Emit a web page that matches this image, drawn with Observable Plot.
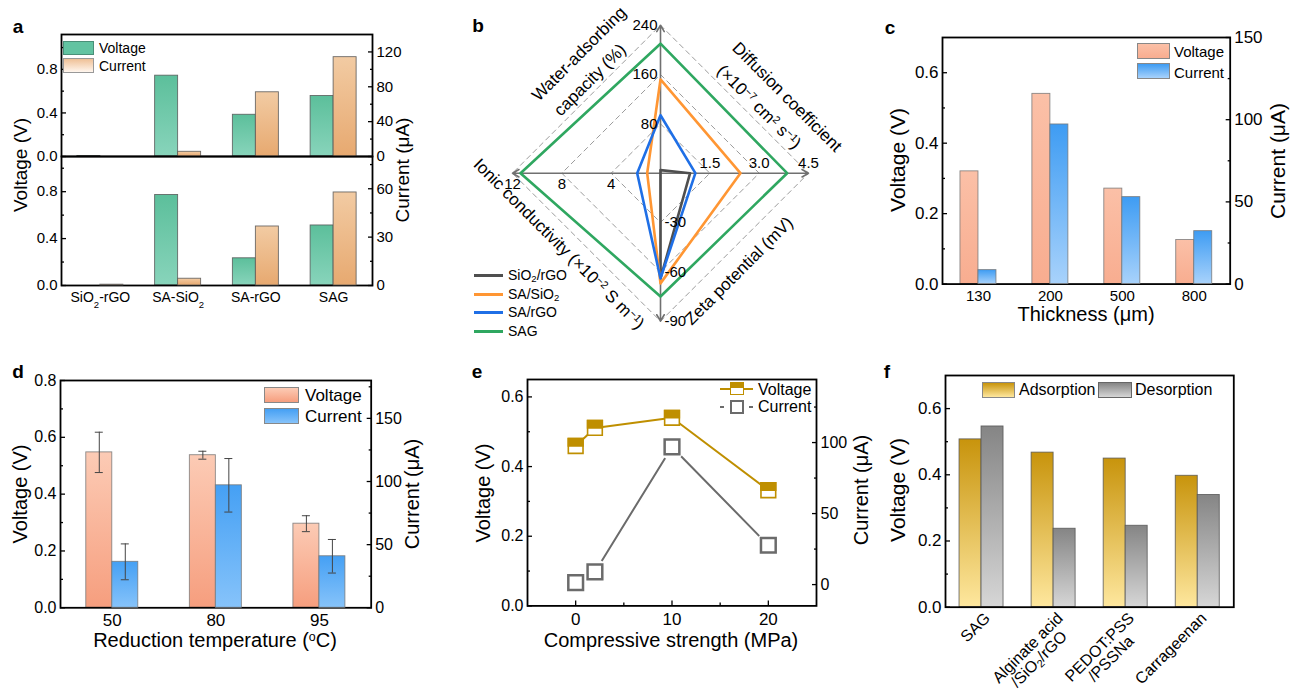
<!DOCTYPE html>
<html><head><meta charset="utf-8">
<script src="https://cdn.jsdelivr.net/npm/d3@7"></script>
<script src="https://cdn.jsdelivr.net/npm/@observablehq/plot@0.6"></script>
<style>
body{margin:0;background:#fff;font-family:"Liberation Sans",Arial,Helvetica,sans-serif;}
#fig{position:relative;width:1290px;height:693px;overflow:hidden;background:#fff;}
.t{position:absolute;white-space:nowrap;color:#000;line-height:1;}
.t sup{font-size:0.62em;vertical-align:0.5em;line-height:0;}
.t sub,.rl sub{font-size:0.68em;vertical-align:-0.25em;line-height:0;}
.sw{position:absolute;box-sizing:border-box;}
</style></head><body>
<svg width="0" height="0" style="position:absolute"><defs id="grads"></defs></svg>
<div id="fig"></div>
<script>
// ================= DATA =================
// Panel a
const aCategories = ["SiO₂-rGO", "SA-SiO₂", "SA-rGO", "SAG"];
const aTopVoltage = [0.005, 0.742, 0.383, 0.555];
const aTopCurrent = [0, 5.4, 73.7, 114];
const aBottomVoltage = [0, 0.772, 0.232, 0.512];
const aBottomCurrent = [0.5, 4.2, 36.6, 57.7];
const aTopVoltageTicks = [0, 0.4, 0.8], aTopVoltageMinor = [0.2, 0.6, 1.0];
const aTopCurrentTicks = [0, 40, 80, 120], aTopCurrentMinor = [20, 60, 100];
const aBottomVoltageTicks = [0, 0.4, 0.8], aBottomVoltageMinor = [0.2, 0.6, 1.0];
const aBottomCurrentTicks = [0, 30, 60], aBottomCurrentMinor = [15, 45, 75];

// Panel b (radar): axes up, right, down, left
const radarAxisNames = ["Water-adsorbing capacity (%)", "Diffusion coefficient (×10⁻⁷ cm² s⁻¹)", "Zeta potential (mV)", "Ionic conductivity (×10⁻² S m⁻¹)"];
const radarMax = [240, 4.5, -90, 12];
const radarTicks = [[80, 160, 240], [1.5, 3.0, 4.5], [-30, -60, -90], [4, 8, 12]];
const radarSeries = ["SiO₂/rGO", "SA/SiO₂", "SA/rGO", "SAG"];
const waterAdsorbing = [5, 152, 94, 210];
const diffusionCoef = [0.9, 2.43, 1.06, 3.85];
const zetaPotential = [-64, -67, -64, -75];
const ionicConductivity = [0, 1.08, 1.89, 11.35];

// Panel c
const cThickness = ["130", "200", "500", "800"];
const cVoltage = [0.32, 0.54, 0.271, 0.125];
const cCurrent = [8.5, 97.1, 52.9, 32.2];

// Panel d
const dTemperature = ["50", "80", "95"];
const dVoltage = [0.547, 0.537, 0.296];
const dVoltageErr = [0.071, 0.014, 0.028];
const dCurrent = [36.4, 97, 40.8];
const dCurrentErr = [14.2, 21.2, 13.3];

// Panel e
const eStrength = [0, 2, 10, 20];
const eVoltage = [0.459, 0.511, 0.54, 0.332];
const eCurrent = [1.4, 8.9, 96.9, 27.7];

// Panel f
const fMaterials = ["SAG", "Alginate acid\n/SiO₂/rGO", "PEDOT:PSS\n/PSSNa", "Carrageenan"];
const fAdsorption = [0.507, 0.467, 0.449, 0.397];
const fDesorption = [0.546, 0.237, 0.246, 0.339];

// ================= STYLE =================
const FONT = "'Liberation Sans', Arial, Helvetica, sans-serif";
const gradients = {
  gAv: ["#5cbf9b", "#88d4bb"], gAi: ["#f2cba3", "#e7a970"], gAiL: ["#efc096", "#fff6ee"],
  gCv: ["#fbc0a7", "#f8ad90"], gCi: ["#3e9cf3", "#a8d2fb"],
  gDv: ["#fccbb5", "#f69e7e"], gDi: ["#45a0f4", "#86c3fa"],
  gFa: ["#c8940c", "#fee79e"], gFd: ["#858585", "#d6d6d6"]
};
const defs = document.getElementById("grads");
for (const [id, [c0, c1]] of Object.entries(gradients)) {
  defs.insertAdjacentHTML("beforeend",
    `<linearGradient id="${id}" x1="0" y1="0" x2="0" y2="1"><stop offset="0" stop-color="${c0}"/><stop offset="1" stop-color="${c1}"/></linearGradient>`);
}
const fig = document.getElementById("fig");
const f1 = d3.format(".1f"), fd = d3.format("d");

function subify(svg) {
  svg.querySelectorAll("text").forEach(t => {
    if (t.children.length) return;
    const s = t.textContent;
    if (!s.includes("₂")) return;
    t.textContent = "";
    s.split(/(₂)/).forEach(part => {
      if (!part) return;
      const ts = document.createElementNS("http://www.w3.org/2000/svg", "tspan");
      if (part === "₂") { ts.textContent = "2"; ts.setAttribute("font-size", "0.68em"); ts.setAttribute("baseline-shift", "sub"); }
      else ts.textContent = part;
      t.appendChild(ts);
    });
  });
}
function toHtml(s) { return s.replace(/₂/g, "<sub>2</sub>").replace(/\n/g, "<br>"); }

function mkPlot({frame, m, x, y, color, marks}) {
  const [x0, y0, x1, y1] = frame, [mt, mr, mb, ml] = m;
  const svg = Plot.plot({
    width: x1 - x0 + ml + mr, height: y1 - y0 + mt + mb,
    marginTop: mt, marginRight: mr, marginBottom: mb, marginLeft: ml,
    x: {...x, label: null}, y: {...y, label: null},
    ...(color ? {color} : {}),
    marks,
    style: `background:transparent;font-family:${FONT};color:#000;overflow:visible;`
  });
  Object.assign(svg.style, {position: "absolute", left: (x0 - ml) + "px", top: (y0 - mt) + "px", maxWidth: "none"});
  fig.appendChild(svg);
  subify(svg);
  return svg;
}
function txt(html, x, y, {size = 20, rot = 0, anchor = "middle", weight = "normal"} = {}) {
  const d = document.createElement("div");
  d.className = "t";
  d.innerHTML = html;
  const tx = anchor === "start" ? "0" : anchor === "end" ? "-100%" : "-50%";
  d.style.cssText = `left:${x}px;top:${y}px;font-size:${size}px;font-weight:${weight};transform:translate(${tx},-50%) rotate(${rot}deg);`;
  fig.appendChild(d);
  return d;
}
function box(x, y, w, h, css) {
  const d = document.createElement("div");
  d.className = "sw";
  d.style.cssText = `left:${x}px;top:${y}px;width:${w}px;height:${h}px;${css}`;
  fig.appendChild(d);
  return d;
}
const grad = id => `linear-gradient(${gradients[id][0]},${gradients[id][1]})`;

function leftAxis(major, minor, fs, fmt = f1) {
  return [
    Plot.axisY(major, {anchor: "left", tickSize: -5, tickPadding: 9, fontSize: fs, tickFormat: fmt, strokeWidth: 1.3}),
    Plot.axisY(minor, {anchor: "left", tickSize: -3, tickFormat: () => "", strokeWidth: 1.3})
  ];
}
function rightAxis(major, minor, fs, fmt = fd) {
  return [
    Plot.axisY(major, {anchor: "right", tickSize: -5, tickPadding: 9, fontSize: fs, tickFormat: fmt, strokeWidth: 1.3}),
    Plot.axisY(minor, {anchor: "right", tickSize: -3, tickFormat: () => "", strokeWidth: 1.3})
  ];
}
const frameMark = () => Plot.frame({stroke: "#000", strokeWidth: 1.8});
const barStroke = {stroke: "#555", strokeWidth: 0.9, strokeOpacity: 0.85};

// ================= PANEL A =================
{
  const fr1 = [61, 34, 372, 156], fr2 = [61, 156, 372, 285];
  const band = (fr1[2] - fr1[0]) / aCategories.length, bw = 23;
  const xs = {domain: aCategories, padding: 0, round: false, axis: null};
  const top = aCategories.map((cat, i) => ({cat, voltage: aTopVoltage[i], current: aTopCurrent[i]}));
  const bot = aCategories.map((cat, i) => ({cat, voltage: aBottomVoltage[i], current: aBottomCurrent[i]}));
  mkPlot({frame: fr1, m: [4, 40, 2, 48], x: xs, y: {domain: [0, 1.12], axis: null}, marks: [
    Plot.barY(top, {x: "cat", y: "voltage", fill: "url(#gAv)", ...barStroke, insetLeft: band / 2 - bw, insetRight: band / 2}),
    ...leftAxis(aTopVoltageTicks, aTopVoltageMinor, 15),
    frameMark()
  ]});
  mkPlot({frame: fr1, m: [4, 40, 2, 48], x: xs, y: {domain: [0, 140], axis: null}, marks: [
    Plot.barY(top, {x: "cat", y: "current", fill: "url(#gAi)", ...barStroke, insetLeft: band / 2, insetRight: band / 2 - bw}),
    ...rightAxis(aTopCurrentTicks, aTopCurrentMinor, 15)
  ]});
  mkPlot({frame: fr2, m: [2, 40, 30, 48], x: xs, y: {domain: [0, 1.1], axis: null}, marks: [
    Plot.barY(bot, {x: "cat", y: "voltage", fill: "url(#gAv)", ...barStroke, insetLeft: band / 2 - bw, insetRight: band / 2}),
    ...leftAxis(aBottomVoltageTicks, aBottomVoltageMinor, 15),
    Plot.axisX({tickSize: 0, tickPadding: 7, fontSize: 14}),
    frameMark()
  ]});
  mkPlot({frame: fr2, m: [2, 40, 30, 48], x: xs, y: {domain: [0, 80], axis: null}, marks: [
    Plot.barY(bot, {x: "cat", y: "current", fill: "url(#gAi)", ...barStroke, insetLeft: band / 2, insetRight: band / 2 - bw}),
    ...rightAxis(aBottomCurrentTicks, aBottomCurrentMinor, 15)
  ]});
  box(63, 41, 31, 14, "background:#62c3a1;border:1px solid #4a8f78;");
  box(63, 58, 31, 15, `background:${grad("gAiL")};border:1px solid #999;`);
  txt("Voltage", 99, 48, {size: 14, anchor: "start"});
  txt("Current", 99, 66, {size: 14, anchor: "start"});
  txt("Voltage (V)", 20, 165, {size: 19, rot: -90});
  txt("Current (μA)", 402, 170, {size: 19, rot: -90});
  txt("a", 18, 26, {size: 19, weight: "bold"});
}

// ================= PANEL B (radar) =================
{
  const cx = 660, cy = 172.7, R = 148;
  const fr = [460, 2, 860, 342];
  const dirs = [[0, 1], [1, 0], [0, -1], [-1, 0]];
  const values = [waterAdsorbing, diffusionCoef, zetaPotential, ionicConductivity];
  const pts = [];
  radarSeries.forEach((s, si) => dirs.forEach((d, k) => {
    const r = values[k][si] / radarMax[k];
    pts.push({series: s, x: d[0] * r, y: d[1] * r});
  }));
  const levels = radarTicks[0].map(t => t / radarMax[0]);
  const gridPts = levels.flatMap(l => dirs.map(d => ({level: l, x: d[0] * l, y: d[1] * l})));
  const tl = radarTicks.map((ts, k) => ts.map(t => ({
    x: dirs[k][0] * t / radarMax[k], y: dirs[k][1] * t / radarMax[k], label: k === 1 ? t.toFixed(1) : String(t)
  })));
  const colors = ["#4f4f4f", "#ff9633", "#1f6fe6", "#2fa760"];
  mkPlot({frame: fr, m: [0, 0, 0, 0],
    x: {domain: [(fr[0] - cx) / R, (fr[2] - cx) / R], axis: null},
    y: {domain: [-(fr[3] - cy) / R, (cy - fr[1]) / R], axis: null},
    color: {domain: radarSeries, range: colors},
    marks: [
      Plot.line(gridPts, {x: "x", y: "y", z: "level", curve: "linear-closed", stroke: "#9c9c9c", strokeWidth: 1, strokeDasharray: "5,4"}),
      Plot.arrow(dirs, {x1: () => 0, y1: () => 0, x2: d => d[0], y2: d => d[1], stroke: "#707070", strokeWidth: 1.6, headLength: 7}),
      Plot.line(pts, {x: "x", y: "y", z: "series", stroke: "series", curve: "linear-closed", strokeWidth: 2.6}),
      Plot.text(tl[0], {x: "x", y: "y", text: "label", textAnchor: "end", dx: -3, fontSize: 15}),
      Plot.text(tl[1], {x: "x", y: "y", text: "label", dy: -10, fontSize: 15}),
      Plot.text(tl[2], {x: "x", y: "y", text: "label", textAnchor: "start", dx: 4, fontSize: 15}),
      Plot.text(tl[3], {x: "x", y: "y", text: "label", dy: 11, fontSize: 15})
    ]});
  txt("Water-adsorbing", 579, 54, {size: 17, rot: -45});
  txt("capacity (%)", 590, 80, {size: 17, rot: -45});
  txt("Diffusion coefficient", 787, 97, {size: 17, rot: 45});
  txt("(×10<sup>−7</sup> cm<sup>2</sup> s<sup>−1</sup>)", 759, 107, {size: 17, rot: 45});
  txt("Ionic conductivity (×10<sup>−2</sup> S m<sup>−1</sup>)", 559, 244, {size: 17, rot: 45});
  txt("Zeta potential (mV)", 739, 271, {size: 17, rot: -45});
  const ly = [275, 294, 312, 331];
  radarSeries.forEach((s, i) => {
    box(474, ly[i] - 1.5, 29, 3, `background:${colors[i]};`);
    txt(toHtml(s), 508, ly[i], {size: 14, anchor: "start"});
  });
  txt("b", 478, 25, {size: 19, weight: "bold"});
}

// ================= PANEL C =================
{
  const fr = [942.3, 36.7, 1230, 283.3];
  const band = (fr[2] - fr[0]) / cThickness.length, bw = 18;
  const xs = {domain: cThickness, padding: 0, round: false, axis: null};
  const data = cThickness.map((t, i) => ({t, v: cVoltage[i], c: cCurrent[i]}));
  mkPlot({frame: fr, m: [4, 45, 30, 45], x: xs, y: {domain: [0, 0.7], axis: null}, marks: [
    Plot.barY(data, {x: "t", y: "v", fill: "url(#gCv)", ...barStroke, stroke: "#777", insetLeft: band / 2 - bw, insetRight: band / 2}),
    ...leftAxis([0, 0.2, 0.4, 0.6], [0.1, 0.3, 0.5], 17),
    Plot.axisX({tickSize: 0, tickPadding: 6, fontSize: 15}),
    frameMark()
  ]});
  mkPlot({frame: fr, m: [4, 45, 30, 45], x: xs, y: {domain: [0, 150], axis: null}, marks: [
    Plot.barY(data, {x: "t", y: "c", fill: "url(#gCi)", ...barStroke, stroke: "#777", insetLeft: band / 2, insetRight: band / 2 - bw}),
    ...rightAxis([0, 50, 100, 150], [25, 75, 125], 17)
  ]});
  box(1136.7, 42.7, 33.3, 16.5, `background:${grad("gCv")};border:1px solid #888;`);
  box(1136.7, 63.3, 33.3, 16, `background:${grad("gCi")};border:1px solid #888;`);
  txt("Voltage", 1174, 51, {size: 15, anchor: "start"});
  txt("Current", 1174, 72, {size: 15, anchor: "start"});
  txt("Thickness (μm)", 1086, 314, {size: 20});
  txt("Voltage (V)", 897, 160, {size: 21, rot: -90});
  txt("Current (μA)", 1277, 161, {size: 21, rot: -90});
  txt("c", 890, 27, {size: 19, weight: "bold"});
}

// ================= PANEL D =================
{
  const fr = [60, 380, 370.7, 607.3];
  const band = (fr[2] - fr[0]) / dTemperature.length, bw = 26;
  const xs = {domain: dTemperature, padding: 0, round: false, axis: null};
  const data = dTemperature.map((t, i) => ({t, v: dVoltage[i], ve: dVoltageErr[i], c: dCurrent[i], ce: dCurrentErr[i]}));
  const cap = {insetLeft: band / 2 - 4, insetRight: band / 2 - 4, stroke: "#444", strokeWidth: 1};
  mkPlot({frame: fr, m: [4, 45, 30, 45], x: xs, y: {domain: [0, 0.8], axis: null}, marks: [
    Plot.barY(data, {x: "t", y: "v", fill: "url(#gDv)", ...barStroke, stroke: "#777", insetLeft: band / 2 - bw, insetRight: band / 2}),
    Plot.ruleX(data, {x: "t", y1: d => d.v - d.ve, y2: d => d.v + d.ve, dx: -bw / 2, stroke: "#444", strokeWidth: 1}),
    Plot.tickY(data, {x: "t", y: d => d.v + d.ve, dx: -bw / 2, ...cap}),
    Plot.tickY(data, {x: "t", y: d => d.v - d.ve, dx: -bw / 2, ...cap}),
    ...leftAxis([0, 0.2, 0.4, 0.6, 0.8], [0.1, 0.3, 0.5, 0.7], 16),
    Plot.axisX({tickSize: 0, tickPadding: 6, fontSize: 17}),
    frameMark()
  ]});
  mkPlot({frame: fr, m: [4, 45, 30, 45], x: xs, y: {domain: [0, 180], axis: null}, marks: [
    Plot.barY(data, {x: "t", y: "c", fill: "url(#gDi)", ...barStroke, stroke: "#777", insetLeft: band / 2, insetRight: band / 2 - bw}),
    Plot.ruleX(data, {x: "t", y1: d => d.c - d.ce, y2: d => d.c + d.ce, dx: bw / 2, stroke: "#444", strokeWidth: 1}),
    Plot.tickY(data, {x: "t", y: d => d.c + d.ce, dx: bw / 2, ...cap}),
    Plot.tickY(data, {x: "t", y: d => d.c - d.ce, dx: bw / 2, ...cap}),
    ...rightAxis([0, 50, 100, 150], [25, 75, 125, 175], 16)
  ]});
  box(264.3, 386.7, 34.7, 16.3, `background:${grad("gDv")};border:1px solid #888;`);
  box(264.3, 407.7, 34.7, 16, `background:${grad("gDi")};border:1px solid #888;`);
  txt("Voltage", 305, 395, {size: 17, anchor: "start"});
  txt("Current", 305, 416, {size: 17, anchor: "start"});
  txt("Reduction temperature (<sup>o</sup>C)", 215, 640, {size: 20});
  txt("Voltage (V)", 20, 494, {size: 20, rot: -90});
  txt("Current (μA)", 412, 494, {size: 20, rot: -90});
  txt("d", 18, 371, {size: 19, weight: "bold"});
}

// ================= PANEL E =================
const halfSquare = {draw(ctx, size) {
  const w = Math.sqrt(size);
  ctx.moveTo(-w / 2, -w / 2); ctx.lineTo(w / 2, -w / 2); ctx.lineTo(w / 2, 0); ctx.lineTo(-w / 2, 0); ctx.closePath();
}};
{
  const fr = [526.7, 379.3, 815.7, 605.7];
  const gold = "#bf8f00", gray = "#6b6b6b";
  const data = eStrength.map((s, i) => ({s, v: eVoltage[i], c: eCurrent[i]}));
  const xs = {domain: [-5, 25], axis: null};
  mkPlot({frame: fr, m: [4, 45, 30, 45], x: xs, y: {domain: [0, 0.65], axis: null}, marks: [
    ...leftAxis([0, 0.2, 0.4, 0.6], [0.1, 0.3, 0.5], 16),
    Plot.axisX([0, 10, 20], {anchor: "bottom", tickSize: -5, tickPadding: 12, fontSize: 17, strokeWidth: 1.3}),
    Plot.axisX([5, 15], {anchor: "bottom", tickSize: -3, tickFormat: () => "", strokeWidth: 1.3}),
    frameMark()
  ]});
  mkPlot({frame: fr, m: [4, 45, 30, 45], x: xs, y: {domain: [-15, 144.4], axis: null}, marks: [
    Plot.line(data, {x: "s", y: "c", stroke: gray, strokeWidth: 2}),
    Plot.dot(data, {x: "s", y: "c", r: 13, fill: "white", stroke: "none"}),
    Plot.dot(data, {x: "s", y: "c", symbol: "square", r: 8.3, fill: "white", stroke: gray, strokeWidth: 2.5}),
    ...rightAxis([0, 50, 100], [25, 75, 125], 16)
  ]});
  mkPlot({frame: fr, m: [4, 45, 30, 45], x: xs, y: {domain: [0, 0.65], axis: null}, marks: [
    Plot.line(data, {x: "s", y: "v", stroke: gold, strokeWidth: 2}),
    Plot.dot(data, {x: "s", y: "v", symbol: "square", r: 8.3, fill: "white", stroke: gold, strokeWidth: 1.6}),
    Plot.dot(data, {x: "s", y: "v", symbol: halfSquare, r: 8.3, fill: gold, stroke: gold, strokeWidth: 1.6})
  ]});
  box(720, 388.3, 33, 2, `background:${gold};`);
  box(729.5, 381.5, 14.5, 13.5, `background:linear-gradient(${gold} 50%, #fff 50%);border:1.5px solid ${gold};`);
  box(720, 405.5, 4, 2, `background:${gray};`);
  box(749, 405.5, 4, 2, `background:${gray};`);
  box(729.5, 399.5, 14.5, 14.5, `background:#fff;border:2.5px solid ${gray};`);
  txt("Voltage", 758, 390, {size: 16, anchor: "start"});
  txt("Current", 758, 407, {size: 16, anchor: "start"});
  txt("Compressive strength (MPa)", 671, 640, {size: 20});
  txt("Voltage (V)", 483, 493, {size: 20, rot: -90});
  txt("Current (μA)", 861, 490, {size: 20, rot: -90});
  txt("e", 477, 371, {size: 19, weight: "bold"});
}

// ================= PANEL F =================
{
  const fr = [945, 375, 1233.3, 606.7];
  const band = (fr[2] - fr[0]) / fMaterials.length, bw = 22;
  const xs = {domain: fMaterials, padding: 0, round: false, axis: null};
  const data = fMaterials.map((m, i) => ({m, a: fAdsorption[i], d: fDesorption[i]}));
  const svg = mkPlot({frame: fr, m: [4, 10, 30, 45], x: xs, y: {domain: [0, 0.7], axis: null}, marks: [
    Plot.barY(data, {x: "m", y: "a", fill: "url(#gFa)", ...barStroke, insetLeft: band / 2 - bw, insetRight: band / 2}),
    Plot.barY(data, {x: "m", y: "d", fill: "url(#gFd)", ...barStroke, insetLeft: band / 2, insetRight: band / 2 - bw}),
    ...leftAxis([0, 0.2, 0.4, 0.6], [0.1, 0.3, 0.5], 17),
    frameMark()
  ]});
  const sx = svg.scale("x");
  const svgLeft = fr[0] - 45;
  fMaterials.forEach(m => {
    const ax = svgLeft + sx.apply(m) + sx.bandwidth / 2 + 1;
    const d = document.createElement("div");
    d.className = "rl";
    d.innerHTML = toHtml(m);
    d.style.cssText = `position:absolute;right:${1290 - ax}px;top:610px;transform-origin:100% 0;transform:rotate(-45deg);text-align:center;font-size:16px;line-height:16px;white-space:nowrap;color:#000;`;
    fig.appendChild(d);
  });
  box(981.7, 382.3, 33.3, 16, `background:${grad("gFa")};border:1px solid #888;`);
  box(1098.3, 382.3, 33.3, 16, `background:${grad("gFd")};border:1px solid #666;`);
  txt("Adsorption", 1019, 390, {size: 16, anchor: "start"});
  txt("Desorption", 1135, 390, {size: 16, anchor: "start"});
  txt("Voltage (V)", 897, 490, {size: 21, rot: -90});
  txt("f", 887, 371, {size: 19, weight: "bold"});
}
</script></body></html>
